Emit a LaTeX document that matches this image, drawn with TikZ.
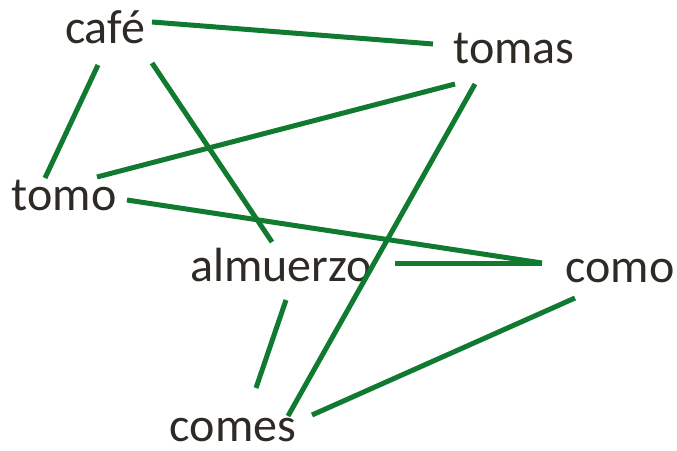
\documentclass[tikz,border=0pt]{standalone}
\usepackage{fontspec}
\setmainfont{Carlito}
\definecolor{lnk}{RGB}{16,122,48}
\definecolor{txt}{RGB}{46,42,37}
\tikzset{word/.style={anchor=base,inner sep=0pt,text=txt,font=\fontsize{48}{54}\selectfont},
link/.style={draw=lnk,line width=5pt}}
\begin{document}
\begin{tikzpicture}[x=1pt,y=-1pt]
\useasboundingbox (0,0) rectangle (677,450);
\node[word] (cafe) at (105,43) {café};
\node[word] (tomas) at (514,63) {tomas};
\node[word] (tomo) at (64,210) {tomo};
\node[word] (almuerzo) at (281,281) {almuerzo};
\node[word] (como) at (620,282) {como};
\node[word] (comes) at (233,441) {comes};
\coordinate (c1) at (152,22); \coordinate (t1) at (433,44);
\coordinate (c2) at (98,65); \coordinate (o1) at (45,178);
\coordinate (c3) at (152,63); \coordinate (a1) at (272,242);
\coordinate (t2) at (455,84); \coordinate (o2) at (97,177);
\coordinate (t3) at (475,84); \coordinate (s1) at (288,416);
\coordinate (o3) at (127,200); \coordinate (m1) at (542,263);
\coordinate (a2) at (395,263);
\coordinate (a3) at (286,300); \coordinate (s2) at (256,388);
\coordinate (m2) at (575,298); \coordinate (s3) at (312,415);
\draw[link] (c1) -- (t1);
\draw[link] (c2) -- (o1);
\draw[link] (c3) -- (a1);
\draw[link] (t2) -- (o2);
\draw[link] (t3) -- (s1);
\draw[link] (o3) -- (m1);
\draw[link] (a2) -- (m1);
\draw[link] (a3) -- (s2);
\draw[link] (m2) -- (s3);
\end{tikzpicture}
\end{document}
